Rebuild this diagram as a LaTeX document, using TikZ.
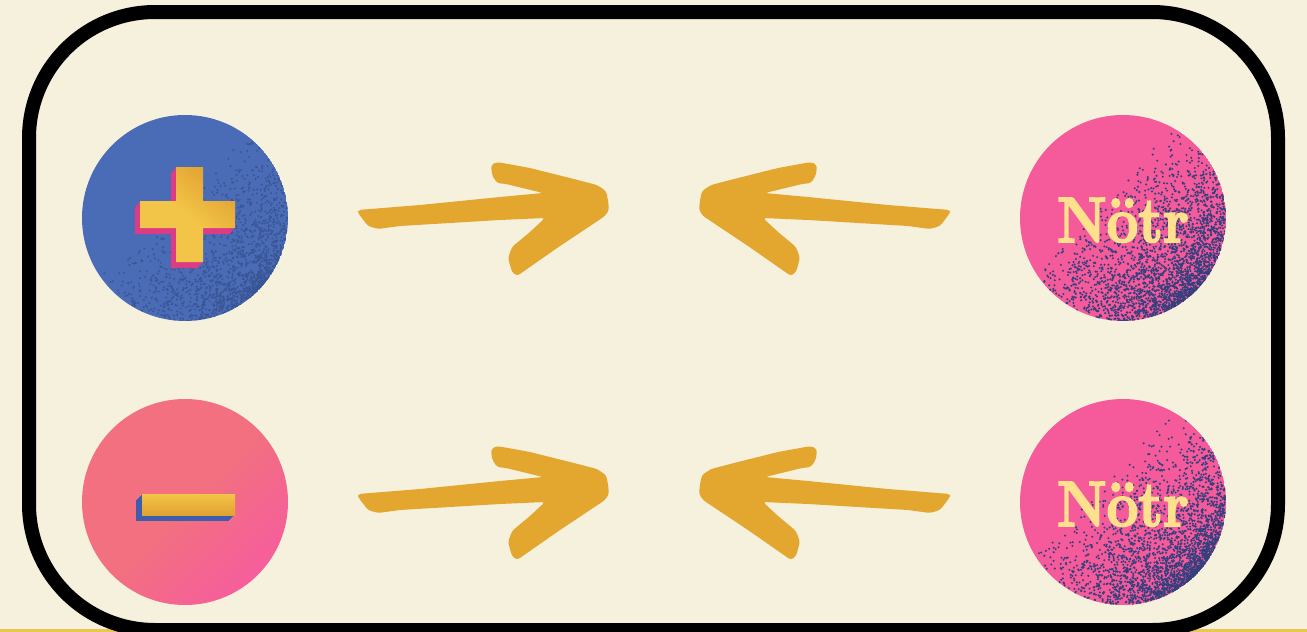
\documentclass[tikz,border=0pt]{standalone}
\usepackage{fontspec}
\newfontfamily\notrfont{Latin Modern Roman}[BoldFeatures={FakeBold=3}]
\usetikzlibrary{calc}
\definecolor{bgcream}{HTML}{F5F1DC}
\definecolor{plusblue}{HTML}{4A6BB5}
\definecolor{bluespeck}{HTML}{3A5596}
\definecolor{notrpink}{HTML}{F55B9A}
\definecolor{notrspeck}{HTML}{34407E}
\definecolor{minuspinkA}{HTML}{F2707F}
\definecolor{minuspinkB}{HTML}{F65E9C}
\definecolor{crossyellow}{HTML}{F2C447}
\definecolor{crossdark}{HTML}{E1A231}
\definecolor{crossside}{HTML}{DC3C84}
\definecolor{barside}{HTML}{3E5EAD}
\definecolor{arrowgold}{HTML}{E3A62F}
\definecolor{notrtext}{HTML}{FFE08C}
\definecolor{lineyellow}{HTML}{EBC650}

\begin{document}
\begin{tikzpicture}[x=1pt,y=-1pt,
  notrlabel/.style={text=notrtext,font=\notrfont\bfseries\fontsize{64}{64}\selectfont,xscale=.88,transform shape,anchor=base,inner sep=0pt}]
\useasboundingbox (0,0) rectangle (1307,632);
\clip (0,0) rectangle (1307,632);
\fill[bgcream] (0,0) rectangle (1307,632);
\fill[lineyellow] (0,629) rectangle (1307,632);
\coordinate (P) at (185,218); \coordinate (M) at (185,502);
\coordinate (N1) at (1123,218); \coordinate (N2) at (1123,502);
\pgfmathsetseed{11}
% plus circle with speckle
\begin{scope}
\clip (P) circle (103);
\fill[plusblue] (P) circle (103);
\foreach \k in {1,...,1600}{
  \pgfmathsetmacro\u{-20+123*sqrt(rnd)}
  \pgfmathsetmacro\v{sqrt(max(10609-\u*\u,0))*rand}
  \fill[bluespeck] ($(P)+({(\u-\v)*0.7071},{(\u+\v)*0.7071})$) circle (1.1);
}
\end{scope}
% minus circle
\shade[left color=minuspinkA,right color=minuspinkB,middle color=minuspinkA,shading angle=45] (M) circle (103);
% neutral circles
\foreach \c in {N1,N2}{
\begin{scope}
\clip (\c) circle (103);
\fill[notrpink] (\c) circle (103);
\foreach \k in {1,...,2600}{
  \pgfmathsetmacro\u{-30+133*sqrt(rnd)}
  \pgfmathsetmacro\v{sqrt(max(10609-\u*\u,0))*rand}
  \fill[notrspeck] ($(\c)+({(\u-\v)*0.7071},{(\u+\v)*0.7071})$) circle (1.15);
}
\end{scope}
}
% plus sign
\foreach \k in {6,...,1}{
\fill[crossside,shift={(-0.85*\k,\k)}] (176,167)--(203,167)--(203,201)--(235,201)--(235,228)--(203,228)--(203,262)--(176,262)--(176,228)--(140,228)--(140,201)--(176,201)--cycle;}
\shade[left color=crossdark,right color=crossyellow,middle color=crossyellow,shading angle=-40] (176,167)--(203,167)--(203,201)--(235,201)--(235,228)--(203,228)--(203,262)--(176,262)--(176,228)--(140,228)--(140,201)--(176,201)--cycle;
% minus sign
\foreach \k in {6,...,1}{\fill[barside,shift={(-\k,\k)}] (142,494) rectangle (235,515);}
\shade[top color=crossyellow,bottom color=crossdark] (142,494) rectangle (235,515);
% labels
\node[notrlabel] (notrtop) at ($(N1)+(0,24)$) {Nötr};
\node[notrlabel] (notrbot) at ($(N2)+(0,24)$) {Nötr};
% hand drawn arrows
\foreach \dy in {0,284}{
\foreach \fx/\sx in {0/1,1308/-1}{
\begin{scope}[shift={(\fx,\dy)},xscale=\sx]
\fill[arrowgold,rounded corners=3pt] (358,210)--(420,205)--(460,201)--(500,197)--(543,193)--(506,184)--(497,183)--(492,175)--(491,165)--(497,162)--(530,168)--(570,178)--(597,185)--(606,191)--(608,200)--(609,210)--(605,216)--(560,246)--(517,276)--(512,272)--(508,258)--(512,247)--(530,232)--(545,218)--(500,220)--(450,223)--(400,226)--(378,229)--(368,226)--(358,213)--cycle;
\end{scope}
}}
% frame
\draw[line width=14pt,rounded corners=126pt] (29,12) rectangle (1278,630);
\end{tikzpicture}
\end{document}
